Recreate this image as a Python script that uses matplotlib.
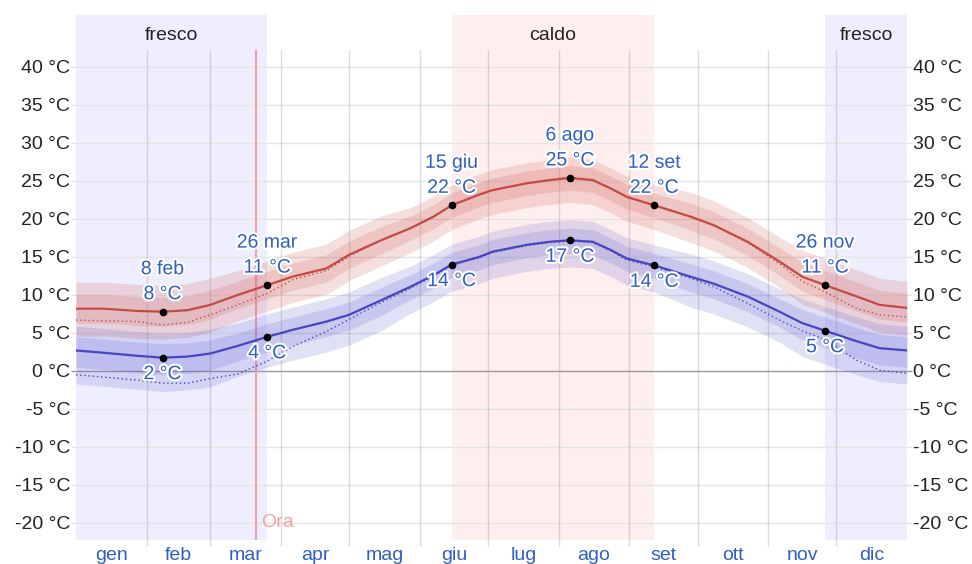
import numpy as np
import matplotlib.pyplot as plt
import matplotlib.patheffects as pe

plt.rcParams['font.family'] = ['Liberation Sans', 'DejaVu Sans']

# day of year (0 = 1 gen)
days = [0, 12, 27, 38, 49, 59, 71, 84, 95, 110, 120, 134, 147, 157, 165, 177,
        183, 198, 208, 217, 227, 235, 242, 254, 270, 280, 295, 309, 319, 329, 343, 353, 365]

hi = [8.2, 8.2, 7.9, 7.8, 8.0, 8.7, 10.0, 11.3, 12.4, 13.5, 15.3, 17.2, 18.8, 20.3, 21.8, 23.2,
      23.8, 24.7, 25.1, 25.4, 25.1, 24.0, 22.9, 21.8, 20.3, 19.2, 17.0, 14.4, 12.4, 11.3, 9.8, 8.7, 8.3]
hi_p10 = [4.6, 4.6, 4.3, 4.2, 4.4, 5.1, 6.6, 7.9, 9.0, 10.1, 11.9, 13.8, 15.6, 17.1, 18.6, 20.0,
          20.6, 21.5, 21.9, 22.2, 21.9, 20.8, 19.7, 18.6, 16.9, 15.8, 13.6, 11.0, 8.8, 7.7, 6.2, 5.1, 4.7]
hi_p25 = [6.3, 6.3, 6.0, 5.9, 6.1, 6.8, 8.2, 9.5, 10.6, 11.7, 13.5, 15.4, 17.2, 18.7, 20.2, 21.6,
          22.2, 23.1, 23.5, 23.8, 23.5, 22.4, 21.3, 20.2, 18.5, 17.4, 15.2, 12.6, 10.5, 9.4, 7.9, 6.8, 6.4]
hi_p75 = [10.1, 10.1, 9.8, 9.7, 9.9, 10.6, 11.8, 13.1, 14.2, 15.3, 17.1, 19.0, 20.4, 21.9, 23.4, 24.8,
          25.4, 26.3, 26.7, 27.0, 26.7, 25.6, 24.5, 23.4, 22.1, 21.0, 18.8, 16.2, 14.3, 13.2, 11.7, 10.6, 10.2]
hi_p90 = [11.7, 11.7, 11.4, 11.3, 11.5, 12.2, 13.2, 14.5, 15.6, 16.7, 18.5, 20.4, 21.5, 23.0, 24.5, 25.9,
          26.5, 27.4, 27.8, 28.1, 27.8, 26.7, 25.6, 24.5, 23.5, 22.4, 20.2, 17.6, 15.9, 14.8, 13.3, 12.2, 11.8]
hi_feels = [6.7, 6.6, 6.5, 6.05, 6.4, 7.4, 8.7, 10.2, 12.0, 13.2, 15.1, 17.2, 18.8, 20.3, 21.8, 23.2,
            23.8, 24.7, 25.2, 25.5, 25.2, 24.0, 22.9, 21.8, 20.3, 19.2, 16.9, 14.1, 11.8, 10.4, 8.2, 7.4, 7.1]

lo = [2.7, 2.4, 2.0, 1.75, 1.9, 2.3, 3.3, 4.5, 5.4, 6.5, 7.4, 9.3, 11.1, 12.6, 14.0, 15.0,
      15.7, 16.6, 17.0, 17.2, 17.0, 15.9, 14.8, 13.9, 12.4, 11.5, 9.8, 7.8, 6.3, 5.3, 3.9, 3.0, 2.7]
lo_p10 = [-1.7, -2.0, -2.4, -2.7, -2.5, -2.1, -0.7, 0.5, 1.4, 2.5, 3.4, 5.3, 7.6, 9.1, 10.5, 11.5,
          12.2, 13.1, 13.5, 13.7, 13.5, 12.4, 11.3, 10.4, 8.4, 7.5, 5.8, 3.8, 1.9, 0.9, -0.5, -1.4, -1.7]
lo_p25 = [0.5, 0.2, -0.2, -0.5, -0.3, 0.1, 1.3, 2.5, 3.4, 4.5, 5.4, 7.3, 9.4, 10.9, 12.3, 13.3,
          14.0, 14.9, 15.3, 15.5, 15.3, 14.2, 13.1, 12.2, 10.4, 9.5, 7.8, 5.8, 4.1, 3.1, 1.7, 0.8, 0.5]
lo_p75 = [4.5, 4.2, 3.8, 3.6, 3.7, 4.1, 5.0, 6.2, 7.1, 8.2, 9.1, 11.0, 12.7, 14.2, 15.6, 16.6,
          17.3, 18.2, 18.6, 18.8, 18.6, 17.5, 16.4, 15.5, 14.1, 13.2, 11.5, 9.5, 8.1, 7.1, 5.7, 4.8, 4.5]
lo_p90 = [5.9, 5.6, 5.2, 5.0, 5.1, 5.5, 6.3, 7.5, 8.4, 9.5, 10.4, 12.3, 13.8, 15.3, 16.7, 17.7,
          18.4, 19.3, 19.7, 19.9, 19.7, 18.6, 17.5, 16.6, 15.4, 14.5, 12.8, 10.8, 9.5, 8.5, 7.1, 6.2, 5.9]
lo_feels = [-0.5, -0.8, -1.2, -1.6, -1.6, -1.0, -0.4, 1.3, 3.2, 5.2, 6.8, 9.0, 10.9, 12.5, 13.9, 14.9,
            15.6, 16.5, 16.9, 17.1, 16.9, 15.8, 14.6, 13.7, 12.2, 11.1, 8.9, 6.7, 5.3, 4.1, 1.4, 0.1, -0.3]

# annotated points
mark_hi_days = [38, 84, 165, 217, 254, 329]
mark_hi_vals = [7.8, 11.3, 21.8, 25.4, 21.8, 11.3]
mark_hi_dates = ["8 feb", "26 mar", "15 giu", "6 ago", "12 set", "26 nov"]
mark_hi_text = ["8 °C", "11 °C", "22 °C", "25 °C", "22 °C", "11 °C"]
mark_lo_days = [38, 84, 165, 217, 254, 329]
mark_lo_vals = [1.75, 4.5, 14.0, 17.2, 13.9, 5.3]
mark_lo_text = ["2 °C", "4 °C", "14 °C", "17 °C", "14 °C", "5 °C"]

seasons = [(0, 84, "fresco", "#eeeeff"), (165, 254, "caldo", "#ffeeee"),
           (329, 365, "fresco", "#eeeeff")]
month_starts = [0, 31, 59, 90, 120, 151, 181, 212, 243, 273, 304, 334, 365]
months = ["gen", "feb", "mar", "apr", "mag", "giu", "lug", "ago", "set", "ott", "nov", "dic"]
now_day = 79

red = "#c44a44"
blue = "#4646c0"
label_blue = "#2f5fc4"

fig = plt.figure(figsize=(9.72, 5.64), dpi=100)
ax = fig.add_axes([76/972, 16/564, 831/972, 533/564])
ax.set_xlim(0, 365)
ax.set_ylim(-23.29, 46.84)
for s in ax.spines.values():
    s.set_visible(False)

for d0, d1, name, col in seasons:
    ax.axvspan(d0, d1, ymin=0.015, ymax=1, color=col, lw=0, zorder=0)
    ax.text((d0 + d1)/2, 44.2, name, ha='center', va='center',
            fontsize=14, color='#222222', zorder=5)

for t in range(-20, 41, 5):
    ax.hlines(t, -2, 367, colors='#999999' if t == 0 else '#e4e4e4',
              lw=1, zorder=1, clip_on=False)
ax.vlines(month_starts[1:-1], -23.0, 42.2, colors='#777777', alpha=0.25, lw=1, zorder=1)
ax.vlines(now_day, -22.2, 42.2, colors='#f2a0a8', lw=1.5, zorder=2)
ax.text(now_day + 2.5, -20.0, "Ora", color='#f4a0a0', fontsize=14,
        ha='left', va='center', zorder=5)

ax.fill_between(days, hi_p10, hi_p90, color='#d06058', alpha=0.2, lw=0, zorder=2)
ax.fill_between(days, hi_p25, hi_p75, color='#d06058', alpha=0.2, lw=0, zorder=2)
ax.fill_between(days, lo_p10, lo_p90, color='#5a5ad0', alpha=0.18, lw=0, zorder=2)
ax.fill_between(days, lo_p25, lo_p75, color='#5a5ad0', alpha=0.18, lw=0, zorder=2)

ax.plot(days, hi, color=red, lw=1.6, zorder=3)
ax.plot(days, lo, color=blue, lw=1.6, zorder=3)
ax.plot(days, hi_feels, color=red, lw=1, ls=(0, (1, 2)), zorder=3)
ax.plot(days, lo_feels, color=blue, lw=1, ls=(0, (1, 2)), zorder=3)

ax.plot(mark_hi_days, mark_hi_vals, 'o', color='black', ms=4.5, zorder=4)
ax.plot(mark_lo_days, mark_lo_vals, 'o', color='black', ms=4.5, zorder=4)

halo = [pe.withStroke(linewidth=3, foreground='white')]
for d, v, date, txt in zip(mark_hi_days, mark_hi_vals, mark_hi_dates, mark_hi_text):
    ax.annotate(date, (d, v), xytext=(0, 42), textcoords='offset pixels', ha='center',
                va='center', fontsize=14, color=label_blue, path_effects=halo, zorder=5)
    ax.annotate(txt, (d, v), xytext=(0, 17), textcoords='offset pixels', ha='center',
                va='center', fontsize=14, color=label_blue, path_effects=halo, zorder=5)
for d, v, txt in zip(mark_lo_days, mark_lo_vals, mark_lo_text):
    ax.annotate(txt, (d, v), xytext=(0, -17), textcoords='offset pixels', ha='center',
                va='center', fontsize=14, color=label_blue, path_effects=halo, zorder=5)

ax.set_xticks([])
yt = list(range(-20, 41, 5))
ax.set_yticks(yt)
ax.set_yticklabels([f"{t} °C" for t in yt])
ax.tick_params(axis='y', length=0, pad=4.3, labelsize=14, labelcolor='#222222',
               labelleft=True, labelright=True)

xf = ax.get_xaxis_transform()
for i, m in enumerate(months):
    mid = (month_starts[i] + month_starts[i + 1]) / 2
    ax.text(mid, -0.0225, m, transform=xf, ha='center', va='baseline',
            fontsize=14, color='#3060c0', clip_on=False)

fig.savefig("out.png", dpi=100)
